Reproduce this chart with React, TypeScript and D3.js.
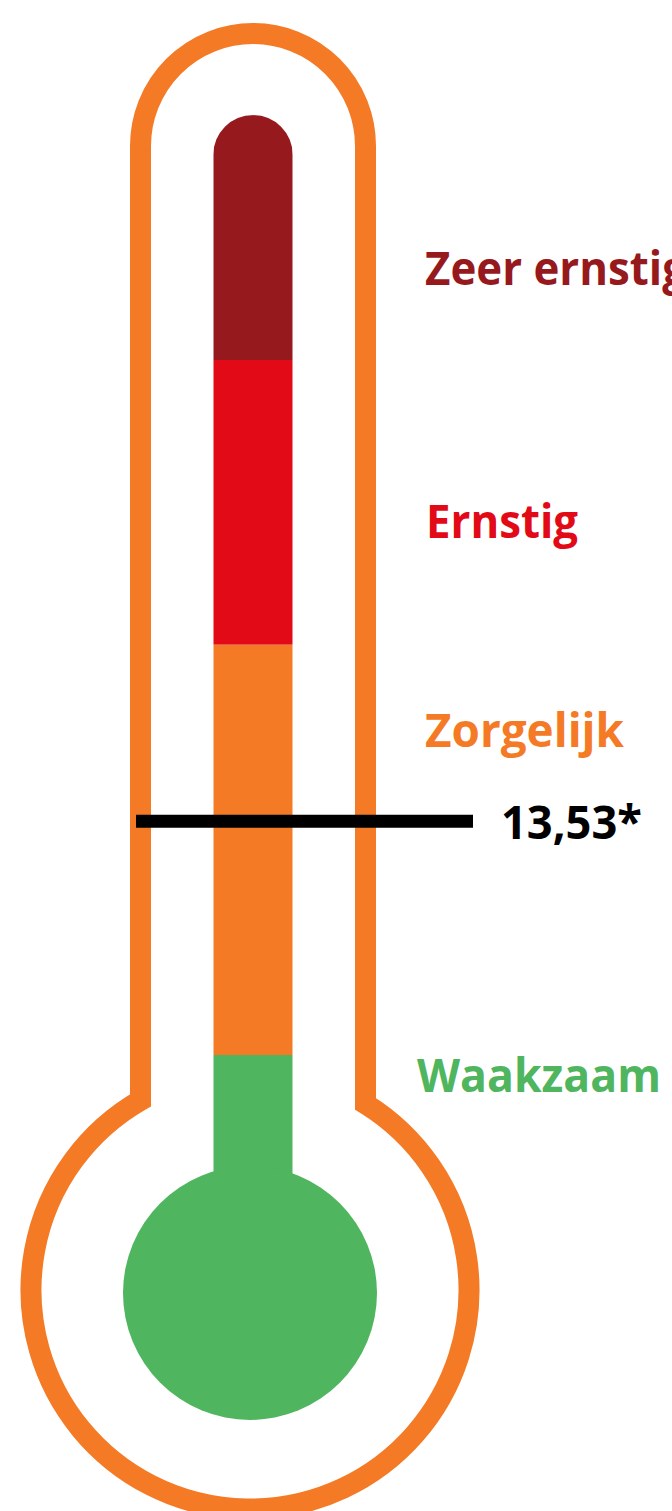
import * as React from "react";
import * as d3 from "d3";

// warning levels, bottom to top
const levels = ["Waakzaam", "Zorgelijk", "Ernstig", "Zeer ernstig"];
const levelColors = ["#4fb55e", "#f47a25", "#e30a17", "#961a1d"];
// upper bound of each level on the thermometer scale
const thresholds = [10, 16.2, 20.5, 24.2];
const currentValue = 13.53;
const currentLabel = "13,53*";

// label placement (baseline y, x, width of the printed word)
const labelBaseline = [1092, 747, 538, 285];
const labelX = [417, 425, 426, 425];
const labelWidth = [244, 199, 152, 262];

const WIDTH = 672;
const HEIGHT = 1511;
const ORANGE = "#f47a25";

export default function App() {
  // column geometry
  const colX0 = 213.3;
  const colX1 = 292.7;
  const colR = (colX1 - colX0) / 2;
  const bulb = {cx: 250, cy: 1293, r: 127};

  const y = d3.scaleLinear().domain([10, 20.5]).range([1055, 360]);
  const colTop = y(thresholds[thresholds.length - 1]);

  const bands = levels.map((name, i) => ({
    name,
    color: levelColors[i],
    y0: i === 0 ? bulb.cy : y(thresholds[i - 1]),
    y1: y(thresholds[i])
  }));

  // outer glass outline
  const tube = {left: 140.5, right: 365.5, cx: 253, topY: 146};
  const tubeR = (tube.right - tube.left) / 2;
  const glass = {cx: 250, cy: 1290, r: 219};
  const yl = glass.cy - Math.sqrt(glass.r ** 2 - (glass.cx - tube.left) ** 2);
  const yr = glass.cy - Math.sqrt(glass.r ** 2 - (tube.right - glass.cx) ** 2);
  const outline = d3.path();
  outline.moveTo(tube.left, yl);
  outline.lineTo(tube.left, tube.topY);
  outline.arc(tube.cx, tube.topY, tubeR, Math.PI, 2 * Math.PI);
  outline.lineTo(tube.right, yr);
  const a0 = Math.atan2(yr - glass.cy, tube.right - glass.cx);
  const a1 = Math.atan2(yl - glass.cy, tube.left - glass.cx);
  outline.arc(glass.cx, glass.cy, glass.r, a0, a1 + 2 * Math.PI);
  outline.closePath();

  const colPath = d3.path();
  colPath.moveTo(colX0, bulb.cy);
  colPath.lineTo(colX0, colTop + colR);
  colPath.arc(colX0 + colR, colTop + colR, colR, Math.PI, 2 * Math.PI);
  colPath.lineTo(colX1, bulb.cy);
  colPath.closePath();

  const vy = y(currentValue);

  return (
    <svg width={WIDTH} height={HEIGHT} viewBox={`0 0 ${WIDTH} ${HEIGHT}`}
         style={{position: "absolute", left: 0, top: 0, display: "block", background: "#fff"}}>
      <defs>
        <clipPath id="col-clip">
          <path d={colPath.toString()}/>
        </clipPath>
      </defs>
      <path d={outline.toString()} fill="none" stroke={ORANGE} strokeWidth={21} strokeLinejoin="miter"/>
      <g clipPath="url(#col-clip)">
        {bands.map(b => (
          <rect key={b.name} x={colX0} width={colX1 - colX0} y={b.y1} height={b.y0 - b.y1} fill={b.color}/>
        ))}
      </g>
      <circle cx={bulb.cx} cy={bulb.cy} r={bulb.r} fill={levelColors[0]}/>
      <line x1={136} x2={473} y1={vy} y2={vy} stroke="#000" strokeWidth={13}/>
      <g style={{fontFamily: "'Open Sans', 'Noto Sans', sans-serif", fontWeight: 700, fontSize: 47}}>
        {levels.map((name, i) => (
          <text key={name} x={labelX[i]} y={labelBaseline[i]} fill={levelColors[i]}
                textLength={labelWidth[i]} lengthAdjust="spacingAndGlyphs">{name}</text>
        ))}
        <text x={501} y={vy + 18} fill="#000" textLength={141} lengthAdjust="spacingAndGlyphs">{currentLabel}</text>
      </g>
    </svg>
  );
}
